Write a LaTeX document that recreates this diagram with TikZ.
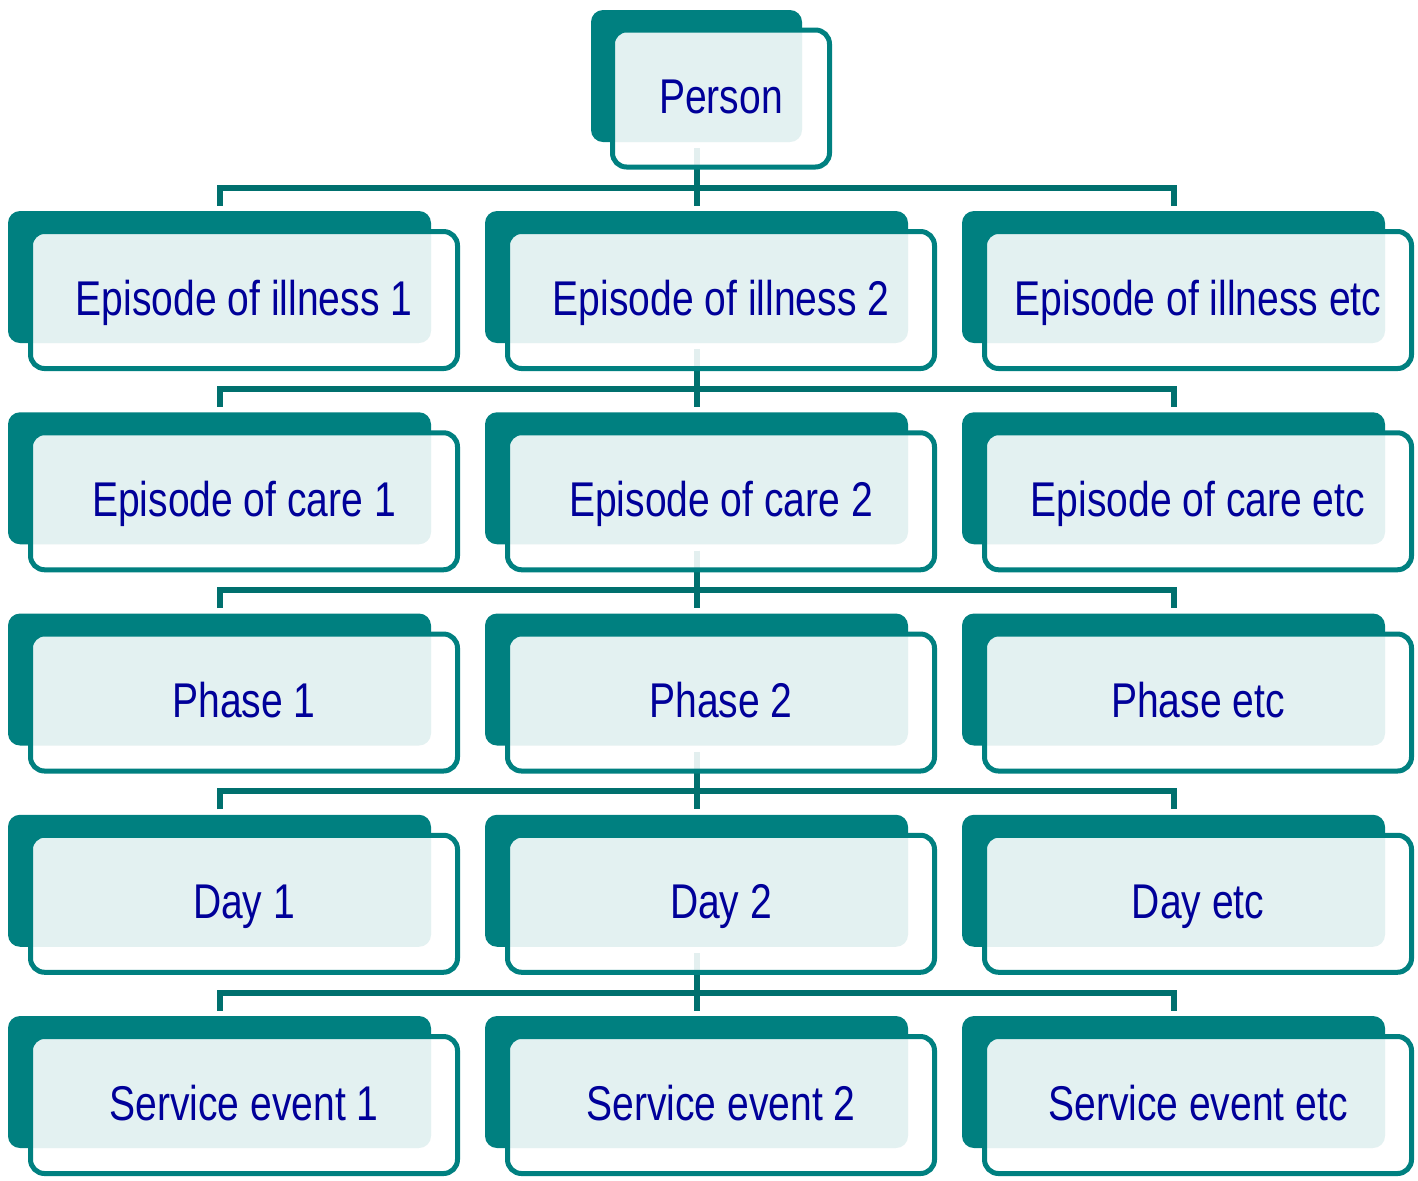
\documentclass[tikz,border=0pt]{standalone}
\usepackage{fontspec}
\setmainfont{Liberation Sans}[FakeStretch=0.8]
\usetikzlibrary{backgrounds}

\definecolor{boxteal}{RGB}{0,128,128}
\definecolor{linkteal}{RGB}{0,112,110}
\definecolor{labelblue}{RGB}{0,0,153}

\tikzset{
  back/.style={rectangle,rounded corners=6pt,fill=boxteal,inner sep=0pt,
    minimum width=211.5pt,minimum height=66pt},
  front/.style={rectangle,rounded corners=7pt,draw=boxteal,line width=2.5pt,
    fill=white,fill opacity=0.89,text opacity=1,text=labelblue,inner sep=0pt,
    minimum width=213.5pt,minimum height=68.5pt,
    text height=17.5pt,text depth=2.5pt,
    font=\fontsize{24.4}{29}\selectfont},
  link/.style={draw=linkteal,line width=3pt}
}

\begin{document}
\begin{tikzpicture}[x=0.5pt,y=-0.5pt]

        \useasboundingbox (0,0) rectangle (1418,1180);

        % dark back plates
        \begin{scope}[every node/.style={back}]
          \node (pb)   at (696.5,76) [minimum width=105.5pt] {};
          \node (i1b)  at (219.5,277)     {};
          \node (i2b)  at (696.5,277)     {};
          \node (i3b)  at (1173.5,277)    {};
          \node (c1b)  at (219.5,478.25)  {};
          \node (c2b)  at (696.5,478.25)  {};
          \node (c3b)  at (1173.5,478.25) {};
          \node (ph1b) at (219.5,679.5)   {};
          \node (ph2b) at (696.5,679.5)   {};
          \node (ph3b) at (1173.5,679.5)  {};
          \node (d1b)  at (219.5,880.75)  {};
          \node (d2b)  at (696.5,880.75)  {};
          \node (d3b)  at (1173.5,880.75) {};
          \node (s1b)  at (219.5,1082)    {};
          \node (s2b)  at (696.5,1082)    {};
          \node (s3b)  at (1173.5,1082)   {};
        \end{scope}

        % connectors, behind the boxes
        \begin{scope}[on background layer,every path/.style={link}]
          \path ([yshift=-3pt]pb.south)   -- ([yshift=2.5pt]i2b.north);
          \path ([yshift=2.5pt]i1b.north) |- ([yshift=11.5pt]i3b.north) -- ([yshift=2.5pt]i3b.north);
          \path ([yshift=-3pt]i2b.south)  -- ([yshift=2.5pt]c2b.north);
          \path ([yshift=2.5pt]c1b.north) |- ([yshift=11.5pt]c3b.north) -- ([yshift=2.5pt]c3b.north);
          \path ([yshift=-3pt]c2b.south)  -- ([yshift=2.5pt]ph2b.north);
          \path ([yshift=2.5pt]ph1b.north) |- ([yshift=11.5pt]ph3b.north) -- ([yshift=2.5pt]ph3b.north);
          \path ([yshift=-3pt]ph2b.south) -- ([yshift=2.5pt]d2b.north);
          \path ([yshift=2.5pt]d1b.north) |- ([yshift=11.5pt]d3b.north) -- ([yshift=2.5pt]d3b.north);
          \path ([yshift=-3pt]d2b.south)  -- ([yshift=2.5pt]s2b.north);
          \path ([yshift=2.5pt]s1b.north) |- ([yshift=11.5pt]s3b.north) -- ([yshift=2.5pt]s3b.north);
        \end{scope}

        % light front boxes with the labels
        \begin{scope}[every node/.style={front}]
          \node (p)   at (721,98.5) [minimum width=108.5pt] {Person};
          \node (i1)  at (244,300)      {Episode of illness 1};
          \node (i2)  at (721,300)      {Episode of illness 2};
          \node (i3)  at (1198,300)     {Episode of illness etc};
          \node (c1)  at (244,501.25)   {Episode of care 1};
          \node (c2)  at (721,501.25)   {Episode of care 2};
          \node (c3)  at (1198,501.25)  {Episode of care etc};
          \node (ph1) at (244,702.5)    {Phase 1};
          \node (ph2) at (721,702.5)    {Phase 2};
          \node (ph3) at (1198,702.5)   {Phase etc};
          \node (d1)  at (244,903.75)   {Day 1};
          \node (d2)  at (721,903.75)   {Day 2};
          \node (d3)  at (1198,903.75)  {Day etc};
          \node (s1)  at (244,1105)     {Service event 1};
          \node (s2)  at (721,1105)     {Service event 2};
          \node (s3)  at (1198,1105)    {Service event etc};
        \end{scope}

      \end{tikzpicture}
\end{document}
